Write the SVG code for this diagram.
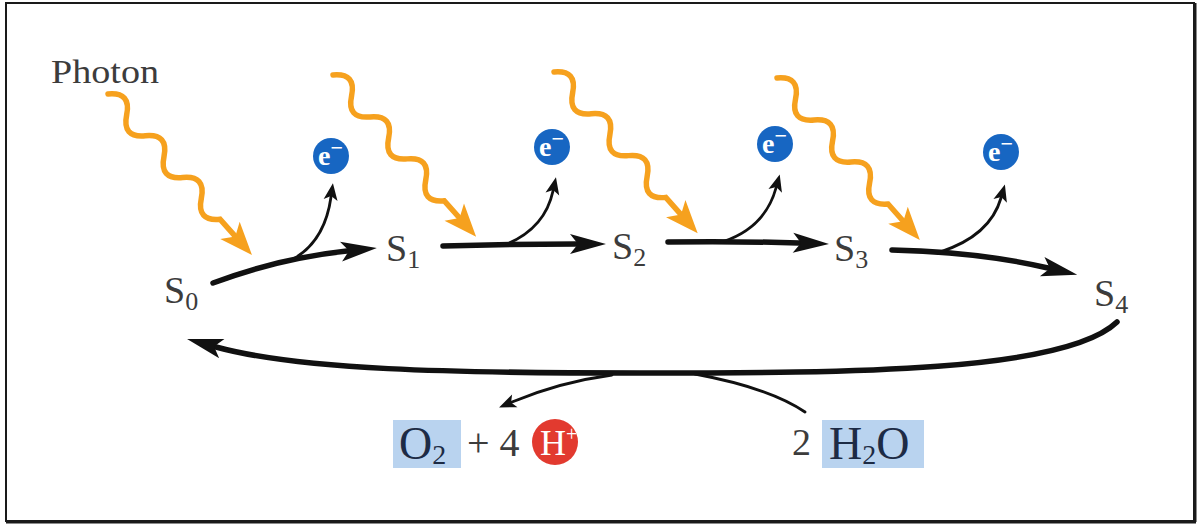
<svg xmlns="http://www.w3.org/2000/svg" xmlns:xlink="http://www.w3.org/1999/xlink" width="1200" height="526" viewBox="0 0 1200 526">
<style>
.lbl{font-family:"Liberation Serif","DejaVu Serif",serif;fill:#3c3c3c}
.main{fill:none;stroke:#111;stroke-width:5.5;stroke-linecap:round}
.thin{fill:none;stroke:#111;stroke-width:2.8;stroke-linecap:round}
.ecirc{fill:#1766c2}
.etxt{font-family:"Liberation Serif","DejaVu Serif",serif;fill:#fff;font-size:28px;font-weight:bold}
.chem{font-family:"Liberation Serif","DejaVu Serif",serif;fill:#1d2b45;font-size:46px}
.box{fill:#b9d3ef}
</style>
<defs>
<marker id="big" markerUnits="userSpaceOnUse" markerWidth="50" markerHeight="30" viewBox="-10 -15 50 30" refX="0" refY="0" orient="auto">
<path d="M30,0 L-6,-10 L2,0 L-6,10 Z" fill="#111"/>
</marker>
<marker id="small" markerUnits="userSpaceOnUse" markerWidth="24" markerHeight="20" viewBox="-6 -10 24 20" refX="0" refY="0" orient="auto">
<path d="M14,0 L-3,-7 L1,0 L-3,7 Z" fill="#111"/>
</marker>
<g id="photon">
<path d="M0,0 q14,-19 28,0 t28,0 t28,0 t28,0 t28,0 t28,0 l22,0" fill="none" stroke="#f6a11e" stroke-width="5.5" stroke-linecap="round"/>
<path d="M216,0 L183,-13 L191,0 L183,13 Z" fill="#f6a11e"/>
</g>
</defs>
<rect x="6" y="3" width="1188" height="518" fill="#fff" stroke="#1a1a1a" stroke-width="2"/>
<line x1="1195" y1="3" x2="1195" y2="522" stroke="#1a1a1a" stroke-width="3"/>
<line x1="6" y1="522" x2="1196" y2="522" stroke="#1a1a1a" stroke-width="3"/>

<g id="photon-label"><text class="lbl" x="51" y="83" font-size="33" textLength="108" lengthAdjust="spacingAndGlyphs">Photon</text></g>

<g id="photons">
<use xlink:href="#photon" transform="translate(108,94) rotate(48.2)"/>
<use xlink:href="#photon" transform="translate(333,75) rotate(48.5)"/>
<use xlink:href="#photon" transform="translate(554,72) rotate(48.3)"/>
<use xlink:href="#photon" transform="translate(777,78) rotate(48.6)"/>
</g>

<g id="connectors">
<path class="main" d="M213,283 Q280,258 347,251" marker-end="url(#big)"/>
<path class="main" d="M443,246 Q510,244 576,244" marker-end="url(#big)"/>
<path class="main" d="M668,242 Q735,241 799,243" marker-end="url(#big)"/>
<path class="main" d="M892,250 Q980,252 1048,268" marker-end="url(#big)"/>
<path class="thin" d="M295,258 Q325,240 331,197" marker-end="url(#small)"/>
<path class="thin" d="M507,244 Q545,228 553,191" marker-end="url(#small)"/>
<path class="thin" d="M722,242 Q765,228 776,188" marker-end="url(#small)"/>
<path class="thin" d="M940,252 Q990,236 1001,198" marker-end="url(#small)"/>
<path class="main" d="M1117,322 C1065,372 850,373 640,373 C450,373 300,370 216,347" marker-end="url(#big)"/>
<path class="thin" d="M612,375 Q560,382 512,402" marker-end="url(#small)"/>
<path class="thin" d="M695,374 Q770,388 805,412"/>
</g>

<g id="S0"><text class="lbl" x="164" y="303" font-size="38">S<tspan font-size="26" dy="7">0</tspan></text></g>
<g id="S1"><text class="lbl" x="386" y="261" font-size="38">S<tspan font-size="26" dy="7">1</tspan></text></g>
<g id="S2"><text class="lbl" x="612" y="259" font-size="38">S<tspan font-size="26" dy="7">2</tspan></text></g>
<g id="S3"><text class="lbl" x="834" y="261" font-size="38">S<tspan font-size="26" dy="7">3</tspan></text></g>
<g id="S4"><text class="lbl" x="1094" y="306" font-size="38">S<tspan font-size="26" dy="7">4</tspan></text></g>

<g id="e1"><circle class="ecirc" cx="331" cy="156" r="18"/><text class="etxt" x="318" y="165">e<tspan dy="-10" font-size="22">−</tspan></text></g>
<g id="e2"><circle class="ecirc" cx="552" cy="147" r="18"/><text class="etxt" x="539" y="156">e<tspan dy="-10" font-size="22">−</tspan></text></g>
<g id="e3"><circle class="ecirc" cx="775" cy="144" r="18"/><text class="etxt" x="762" y="153">e<tspan dy="-10" font-size="22">−</tspan></text></g>
<g id="e4"><circle class="ecirc" cx="1001" cy="152" r="18"/><text class="etxt" x="988" y="161">e<tspan dy="-10" font-size="22">−</tspan></text></g>

<g id="products">
<rect class="box" x="393" y="420" width="68" height="48"/>
<text class="chem" x="399" y="459">O<tspan font-size="28" dy="5">2</tspan></text>
<text class="lbl" x="467" y="456" font-size="40">+ 4</text>
<circle cx="555" cy="442" r="23" fill="#e23a2f"/>
<text x="540" y="455" font-family="Liberation Serif, serif" font-size="36" fill="#fff">H<tspan font-size="20" dy="-14">+</tspan></text>
</g>

<g id="water">
<text class="lbl" x="792" y="455" font-size="38">2</text>
<rect class="box" x="822" y="420" width="102" height="48"/>
<text class="chem" x="829" y="459">H<tspan font-size="28" dy="5">2</tspan><tspan dy="-5">O</tspan></text>
</g>
</svg>
